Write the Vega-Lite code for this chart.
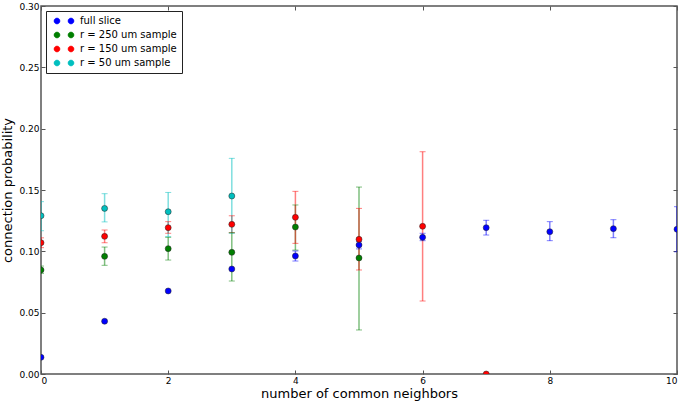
{
  "$schema": "https://vega.github.io/schema/vega-lite/v6.json",
  "width": 636,
  "height": 368,
  "autosize": {"type": "none"},
  "padding": {"left": 41, "top": 6, "right": 3, "bottom": 29},
  "background": "white",
  "config": {
    "font": "DejaVu Sans",
    "view": {"stroke": "#555555", "strokeWidth": 1.5},
    "axis": {
      "grid": false,
      "domain": false,
      "tickColor": "#555555",
      "tickSize": -4,
      "labelFontSize": 9,
      "labelColor": "black",
      "titleFontSize": 13,
      "titleFontWeight": "normal",
      "titleColor": "black"
    }
  },
  "data": {
    "values": [
      {"n": 0, "p": 0.0136, "lo": null, "hi": null, "series": "full slice"},
      {"n": 1, "p": 0.043, "lo": null, "hi": null, "series": "full slice"},
      {"n": 2, "p": 0.0677, "lo": null, "hi": null, "series": "full slice"},
      {"n": 3, "p": 0.0856, "lo": null, "hi": null, "series": "full slice"},
      {"n": 4, "p": 0.0962, "lo": 0.0921, "hi": 0.1003, "series": "full slice"},
      {"n": 5, "p": 0.1052, "lo": 0.102, "hi": 0.108, "series": "full slice"},
      {"n": 6, "p": 0.1114, "lo": 0.1087, "hi": 0.1147, "series": "full slice"},
      {"n": 7, "p": 0.1193, "lo": 0.1133, "hi": 0.1253, "series": "full slice"},
      {"n": 8, "p": 0.116, "lo": 0.1087, "hi": 0.1242, "series": "full slice"},
      {"n": 9, "p": 0.1185, "lo": 0.1111, "hi": 0.1258, "series": "full slice"},
      {"n": 10, "p": 0.118, "lo": 0.0996, "hi": 0.1364, "series": "full slice"},
      {"n": 0, "p": 0.0848, "lo": 0.082, "hi": 0.088, "series": "r = 250 um sample"},
      {"n": 1, "p": 0.0959, "lo": 0.0886, "hi": 0.1035, "series": "r = 250 um sample"},
      {"n": 2, "p": 0.1022, "lo": 0.0929, "hi": 0.1114, "series": "r = 250 um sample"},
      {"n": 3, "p": 0.0992, "lo": 0.0758, "hi": 0.1152, "series": "r = 250 um sample"},
      {"n": 4, "p": 0.1198, "lo": 0.101, "hi": 0.1378, "series": "r = 250 um sample"},
      {"n": 5, "p": 0.0946, "lo": 0.0359, "hi": 0.1524, "series": "r = 250 um sample"},
      {"n": 0, "p": 0.107, "lo": 0.103, "hi": 0.111, "series": "r = 150 um sample"},
      {"n": 1, "p": 0.1122, "lo": 0.107, "hi": 0.1174, "series": "r = 150 um sample"},
      {"n": 2, "p": 0.1193, "lo": 0.1147, "hi": 0.1242, "series": "r = 150 um sample"},
      {"n": 3, "p": 0.122, "lo": 0.1152, "hi": 0.129, "series": "r = 150 um sample"},
      {"n": 4, "p": 0.1277, "lo": 0.1065, "hi": 0.1489, "series": "r = 150 um sample"},
      {"n": 5, "p": 0.1098, "lo": 0.0848, "hi": 0.135, "series": "r = 150 um sample"},
      {"n": 6, "p": 0.1204, "lo": 0.0595, "hi": 0.1812, "series": "r = 150 um sample"},
      {"n": 7, "p": 0.0, "lo": null, "hi": null, "series": "r = 150 um sample"},
      {"n": 0, "p": 0.129, "lo": 0.1168, "hi": 0.1405, "series": "r = 50 um sample"},
      {"n": 1, "p": 0.135, "lo": 0.124, "hi": 0.147, "series": "r = 50 um sample"},
      {"n": 2, "p": 0.1323, "lo": 0.112, "hi": 0.148, "series": "r = 50 um sample"},
      {"n": 3, "p": 0.1451, "lo": 0.1147, "hi": 0.1758, "series": "r = 50 um sample"}
    ]
  },
  "encoding": {
    "x": {
      "field": "n",
      "type": "quantitative",
      "scale": {"domain": [0, 10], "nice": false, "zero": false},
      "axis": null
    },
    "y": {
      "field": "p",
      "type": "quantitative",
      "scale": {"domain": [0, 0.3], "nice": false},
      "axis": null
    },
    "color": {
      "field": "series",
      "type": "nominal",
      "sort": ["full slice", "r = 250 um sample", "r = 150 um sample", "r = 50 um sample"],
      "scale": {
        "domain": ["full slice", "r = 250 um sample", "r = 150 um sample", "r = 50 um sample"],
        "range": ["#0000ff", "#007f00", "#ff0000", "#00bfbf"]
      },
      "legend": {
        "title": null,
        "orient": "top-left",
        "offset": 5,
        "padding": 5,
        "strokeColor": "#222222",
        "fillColor": "white",
        "labelFontSize": 10,
        "labelColor": "black",
        "symbolType": "M -0.667,0 A 1,1 0 1,0 1.333,0 A 1,1 0 1,0 -0.667,0 Z M 4,0 A 1,1 0 1,0 6,0 A 1,1 0 1,0 4,0 Z",
        "symbolSize": 36,
        "symbolStrokeColor": "#222222",
        "symbolStrokeWidth": 0.5,
        "symbolOpacity": 1,
        "rowPadding": 4,
        "labelOffset": 19
      }
    }
  },
  "resolve": {"axis": {"x": "independent", "y": "independent"}},
  "layer": [
    {
      "mark": {"type": "rule", "opacity": 0.5, "strokeWidth": 1.5, "clip": true},
      "encoding": {"y": {"field": "lo", "type": "quantitative", "axis": null}, "y2": {"field": "hi"}}
    },
    {
      "mark": {"type": "tick", "opacity": 0.5, "size": 6, "thickness": 1, "orient": "horizontal", "clip": true},
      "encoding": {"y": {"field": "lo", "type": "quantitative", "axis": null}}
    },
    {
      "mark": {"type": "tick", "opacity": 0.5, "size": 6, "thickness": 1, "orient": "horizontal", "clip": true},
      "encoding": {"y": {"field": "hi", "type": "quantitative", "axis": null}}
    },
    {
      "mark": {"type": "point", "filled": true, "size": 36, "opacity": 1, "stroke": "#222222", "strokeWidth": 0.5, "clip": true},
      "encoding": {
        "x": {
          "field": "n",
          "type": "quantitative",
          "axis": {"orient": "bottom", "values": [0, 2, 4, 6, 8, 10], "title": "number of common neighbors", "labelPadding": 6, "titlePadding": 2}
        },
        "y": {
          "field": "p",
          "type": "quantitative",
          "axis": {"orient": "left", "values": [0, 0.05, 0.1, 0.15, 0.2, 0.25, 0.3], "format": ".2f", "title": "connection probability", "labelPadding": 6, "titlePadding": 4}
        }
      }
    },
    {
      "mark": {"type": "point", "opacity": 0},
      "encoding": {
        "x": {
          "field": "n",
          "type": "quantitative",
          "axis": {"orient": "top", "values": [0, 2, 4, 6, 8, 10], "labels": false, "title": null}
        },
        "y": {
          "field": "p",
          "type": "quantitative",
          "axis": {"orient": "right", "values": [0, 0.05, 0.1, 0.15, 0.2, 0.25, 0.3], "labels": false, "title": null}
        }
      }
    }
  ]
}
